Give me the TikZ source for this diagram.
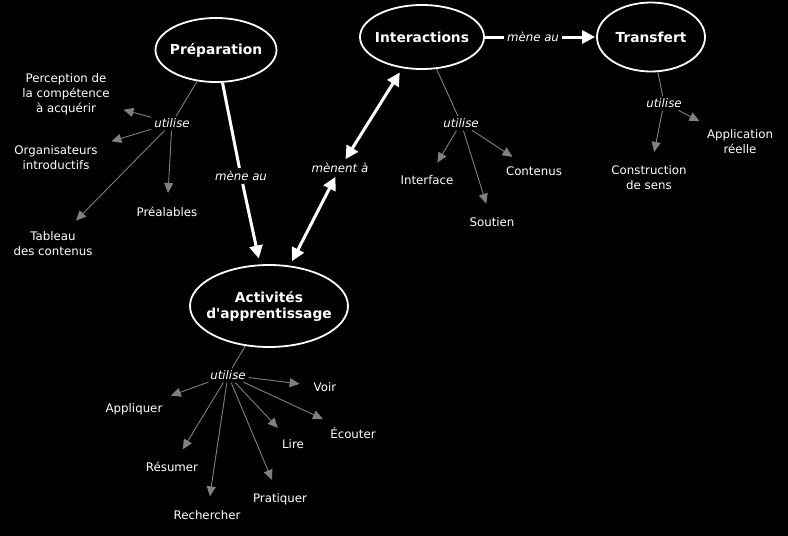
\documentclass[tikz,border=0pt]{standalone}
\usepackage{fontspec}
\setmainfont{DejaVu Sans}
\usetikzlibrary{shapes.geometric, arrows.meta}

\definecolor{linkgray}{RGB}{128,128,128}

\tikzset{
  concept/.style={ellipse, draw=white, line width=1.8pt, fill=black, text=white, inner ysep=0pt,
    align=center, font=\fontsize{13.8}{16}\selectfont\bfseries},
  leaf/.style={text=white, inner sep=4pt, align=center, font=\fontsize{11.8}{15}\selectfont},
  phrase/.style={text=white, inner sep=3pt, font=\fontsize{11.8}{14}\selectfont\itshape},
  strong/.style={draw=white, line width=3pt},
  bigtip/.style={-{Triangle[length=13pt,width=13pt]}, shorten >=3pt},
  bothtips/.style={{Triangle[length=13pt,width=13pt]}-{Triangle[length=13pt,width=13pt]}, shorten <=1pt, shorten >=5pt},
  thin/.style={draw=linkgray, line width=0.9pt},
  smalltip/.style={-{Triangle[length=10pt,width=9pt]}, shorten >=10pt, shorten <=1pt}
}

\begin{document}
\begin{tikzpicture}[x=1pt, y=-1pt]
  \fill[black] (0,0) rectangle (788,536);
  \useasboundingbox (0,0) rectangle (788,536);

  % concepts
  \node[concept, inner xsep=-4pt, minimum width=121pt, minimum height=64pt] (prep) at (216,50) {Préparation};
  \node[concept, inner xsep=-5pt, minimum width=124pt, minimum height=64pt] (inter) at (422,37) {Interactions};
  \node[concept, inner xsep=0pt, minimum width=108pt, minimum height=69pt] (trans) at (651,37) {Transfert};
  \node[concept, inner xsep=-11pt, minimum width=158pt, minimum height=82pt] (act) at (269,306) {Activités\\d\textquotesingle apprentissage};

  % link phrases
  \node[phrase] (mene1) at (241,176) {mène au};
  \node[phrase] (mene2) at (533,37) {mène au};
  \node[phrase] (menent) at (340,168) {mènent à};
  \node[phrase, inner sep=2pt] (uprep) at (172,123) {utilise};
  \node[phrase, inner sep=2pt] (uinter) at (461,123) {utilise};
  \node[phrase, inner sep=2pt] (utrans) at (664,103) {utilise};
  \node[phrase, inner sep=2pt] (uact) at (228,375) {utilise};

  % leaves
  \node[leaf] (percep) at (66,94) {Perception de\\la compétence\\à acquérir};
  \node[leaf] (organ) at (56,158) {Organisateurs\\introductifs};
  \node[leaf] (preal) at (167,212) {Préalables};
  \node[leaf] (tabl) at (53,244) {Tableau\\des contenus};
  \node[leaf] (interf) at (427,180) {Interface};
  \node[leaf] (sout) at (492,222) {Soutien};
  \node[leaf] (cont) at (534,171) {Contenus};
  \node[leaf] (constr) at (649,178) {Construction\\de sens};
  \node[leaf] (appli) at (740,142) {Application\\réelle};
  \node[leaf] (appliq) at (134,409) {Appliquer};
  \node[leaf] (voir) at (325,387) {Voir};
  \node[leaf] (ecout) at (353,433) {Écouter};
  \node[leaf] (lire) at (293,444) {Lire};
  \node[leaf] (resum) at (172,467) {Résumer};
  \node[leaf] (prat) at (280,499) {Pratiquer};
  \node[leaf] (reche) at (207,515) {Rechercher};

  % main links
  \draw (prep) edge[strong] (mene1)
        (mene1) edge[strong, bigtip, shorten >=6pt] (act)
        (inter) edge[strong] (mene2)
        (mene2) edge[strong, bigtip, shorten >=1pt] (trans)
        (menent) edge[strong, bothtips] (inter)
        (menent) edge[strong, bothtips] (act);

  % utilise links
  \draw (prep) edge[thin] (uprep)
        (uprep) edge[thin, smalltip] (percep)
        (uprep) edge[thin, smalltip] (organ)
        (uprep) edge[thin, smalltip] (preal)
        (uprep) edge[thin, smalltip] (tabl)
        (inter) edge[thin] (uinter)
        (uinter) edge[thin, smalltip] (interf)
        (uinter) edge[thin, smalltip] (sout)
        (uinter) edge[thin, smalltip] (cont)
        (trans) edge[thin] (utrans)
        (utrans) edge[thin, smalltip] (constr)
        (utrans) edge[thin, smalltip] (appli)
        (act) edge[thin] (uact)
        (uact) edge[thin, smalltip] (appliq)
        (uact) edge[thin, smalltip] (voir)
        (uact) edge[thin, smalltip] (ecout)
        (uact) edge[thin, smalltip] (lire)
        (uact) edge[thin, smalltip] (resum)
        (uact) edge[thin, smalltip] (prat)
        (uact) edge[thin, smalltip] (reche);
\end{tikzpicture}
\end{document}
